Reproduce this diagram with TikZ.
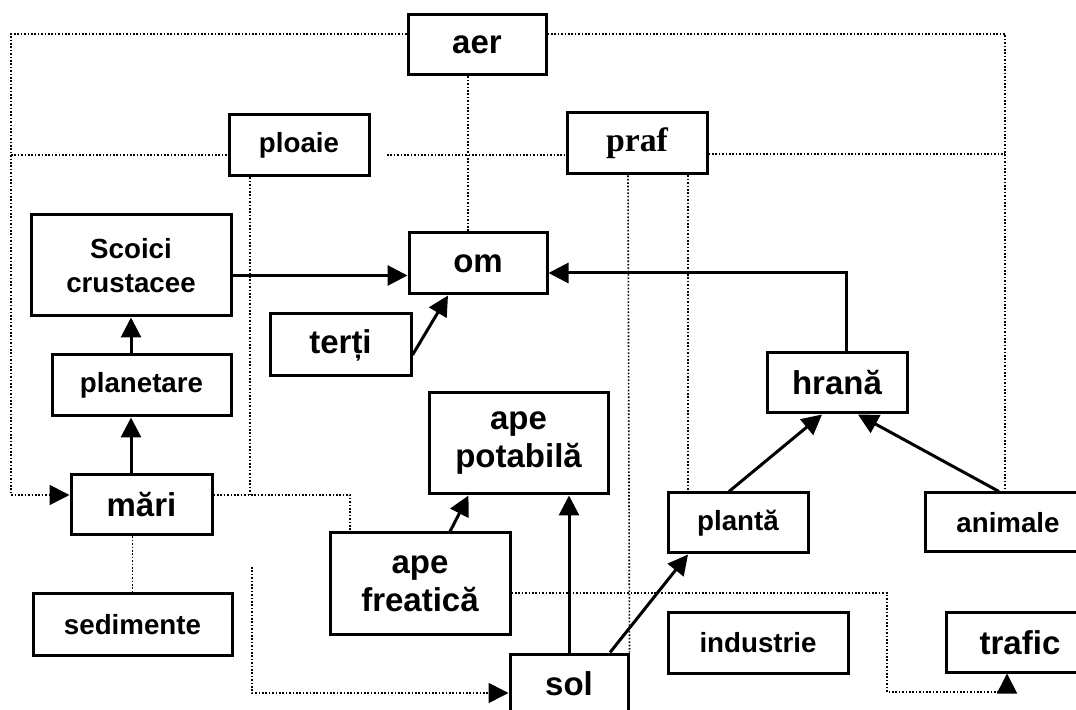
\documentclass[tikz,border=0pt]{standalone}
\usepackage{fontspec}
\setmainfont{Liberation Sans}
\newfontfamily\praffont{Liberation Serif}
\usepackage{tikz}
\usetikzlibrary{arrows.meta, calc, positioning}

\begin{document}
\begin{tikzpicture}[x=0.5pt, y=-0.5pt,
    box/.style={draw, line width=1.5pt, inner sep=0pt, align=center, font=\bfseries\fontsize{13.85}{17}\selectfont},
    bigbox/.style={box, font=\bfseries\fontsize{16.5}{19}\selectfont},
    flow/.style={-{Triangle[length=10pt, width=10pt]}, line width=1.5pt},
    link/.style={line width=0.8pt, dash pattern=on 0.8pt off 0.9pt},
    linkto/.style={link, -{Triangle[length=10pt, width=10pt]}}]

    \useasboundingbox (0,0) rectangle (1076,710);
    \clip (0,0) rectangle (1076,710);

    % Boxes of the scheme
    \node[bigbox, minimum width=69pt, minimum height=30pt] (aer) at (477,45) {aer};
    \node[box, minimum width=70pt, minimum height=30.5pt] (ploaie) at (299,145.5) {ploaie};
    \node[box, minimum width=70pt, minimum height=30.5pt, font=\praffont\bfseries\fontsize{16.9}{19}\selectfont] (praf) at (637,143.5) {praf};
    \node[box, minimum width=100pt, minimum height=50.5pt] (scoici) at (131,265.5) {Scoici\\crustacee};
    \node[bigbox, minimum width=69pt, minimum height=30.5pt] (om) at (478,263.5) {om};
    \node[bigbox, minimum width=70.5pt, minimum height=31pt] (terti) at (340.5,345) {terți};
    \node[box, minimum width=89.5pt, minimum height=30.5pt] (planetare) at (141.5,385.5) {planetare};
    \node[bigbox, minimum width=70pt, minimum height=30pt] (hrana) at (837,383) {hrană};
    \node[bigbox, minimum width=89.5pt, minimum height=50.5pt] (potabila) at (518.5,443.5) {ape\\potabilă};
    \node[bigbox, minimum width=70.5pt, minimum height=30pt] (mari) at (141.5,505) {mări};
    \node[box, minimum width=70pt, minimum height=30pt] (planta) at (738,523) {plantă};
    \node[box, minimum width=83pt, minimum height=29.5pt] (animale) at (1008,522.5) {animale};
    \node[bigbox, minimum width=90pt, minimum height=50.5pt] (freatica) at (420,583.5) {ape\\freatică};
    \node[box, minimum width=99.5pt, minimum height=30.5pt] (sedimente) at (132.5,624.5) {sedimente};
    \node[box, minimum width=90pt, minimum height=30pt] (industrie) at (758,643) {industrie};
    \node[bigbox, minimum width=74pt, minimum height=29.5pt] (trafic) at (1020,642.5) {trafic};
    \node[bigbox, minimum width=59pt, minimum height=30pt] (sol) at (569,684) {sol};

    % Free ends of the dotted lines
    \coordinate (cornerL) at (11,495);
    \coordinate (cornerR) at (1005,34);
    \coordinate (ploaieL) at (11,155);
    \coordinate (ploaieR) at (387,155);
    \coordinate (prafR) at (1005,154);
    \coordinate (ploaieD) at (250,495);
    \coordinate (dropL) at (252,567);
    \coordinate (bendR) at (887,692);

    % Dotted links
    \draw[linkto] ([yshift=5.5pt]aer.west) -| (cornerL) -- (cornerL -| mari.west);
    \draw[link] ([yshift=5.5pt]aer.east) -| (cornerR |- animale.north);
    \draw[link] ([xshift=-4.5pt]aer.south) -- ([xshift=-5pt]om.north);
    \draw[link] (ploaieL) -- (ploaieL -| ploaie.west);
    \draw[link] (ploaieR) -- (ploaieR -| praf.west);
    \draw[link] (prafR -| praf.east) -- (prafR);
    \draw[link] (ploaieD |- ploaie.south) -- (ploaieD);
    \draw[link] ([yshift=5pt]mari.east) -| ([xshift=-35pt]freatica.north);
    \draw[link] (mari.south -| sedimente.north) -- (sedimente.north);
    \draw[linkto] (dropL) |- ([yshift=-4.5pt]sol.west);
    \draw[linkto] ([yshift=-4.75pt]freatica.east) -| (bendR) -| ([xshift=-6.5pt]trafic.south);
    \draw[link] ([xshift=-4.5pt]praf.south) -- (sol.north east);
    \draw[link] ([xshift=25.5pt]praf.south) -- ([xshift=-25pt]planta.north);

    % Solid arrows
    \draw[flow] ([yshift=-5pt]scoici.east) -- ([yshift=-6pt]om.west);
    \draw[flow] ([yshift=-5pt]terti.east) -- ([xshift=-15pt]om.south);
    \draw[flow] (planetare.north -| scoici.south) -- (scoici.south);
    \draw[flow] (mari.north -| scoici.south) -- (planetare.south -| scoici.south);
    \draw[flow] ([xshift=15pt]freatica.north) -- ([xshift=-25pt]potabila.south);
    \draw[flow] (sol.north) -- (potabila.south -| sol.north);
    \draw[flow] ([xshift=20.5pt]sol.north) -- ([xshift=-25pt]planta.south);
    \draw[flow] ([xshift=-4.5pt]planta.north) -- ([xshift=-7.5pt]hrana.south);
    \draw[flow] ([xshift=-4.5pt]animale.north) -- ([xshift=10.5pt]hrana.south);
    \draw[flow] ([xshift=4.5pt]hrana.north) |- ([yshift=-4.75pt]om.east);
\end{tikzpicture}
\end{document}
